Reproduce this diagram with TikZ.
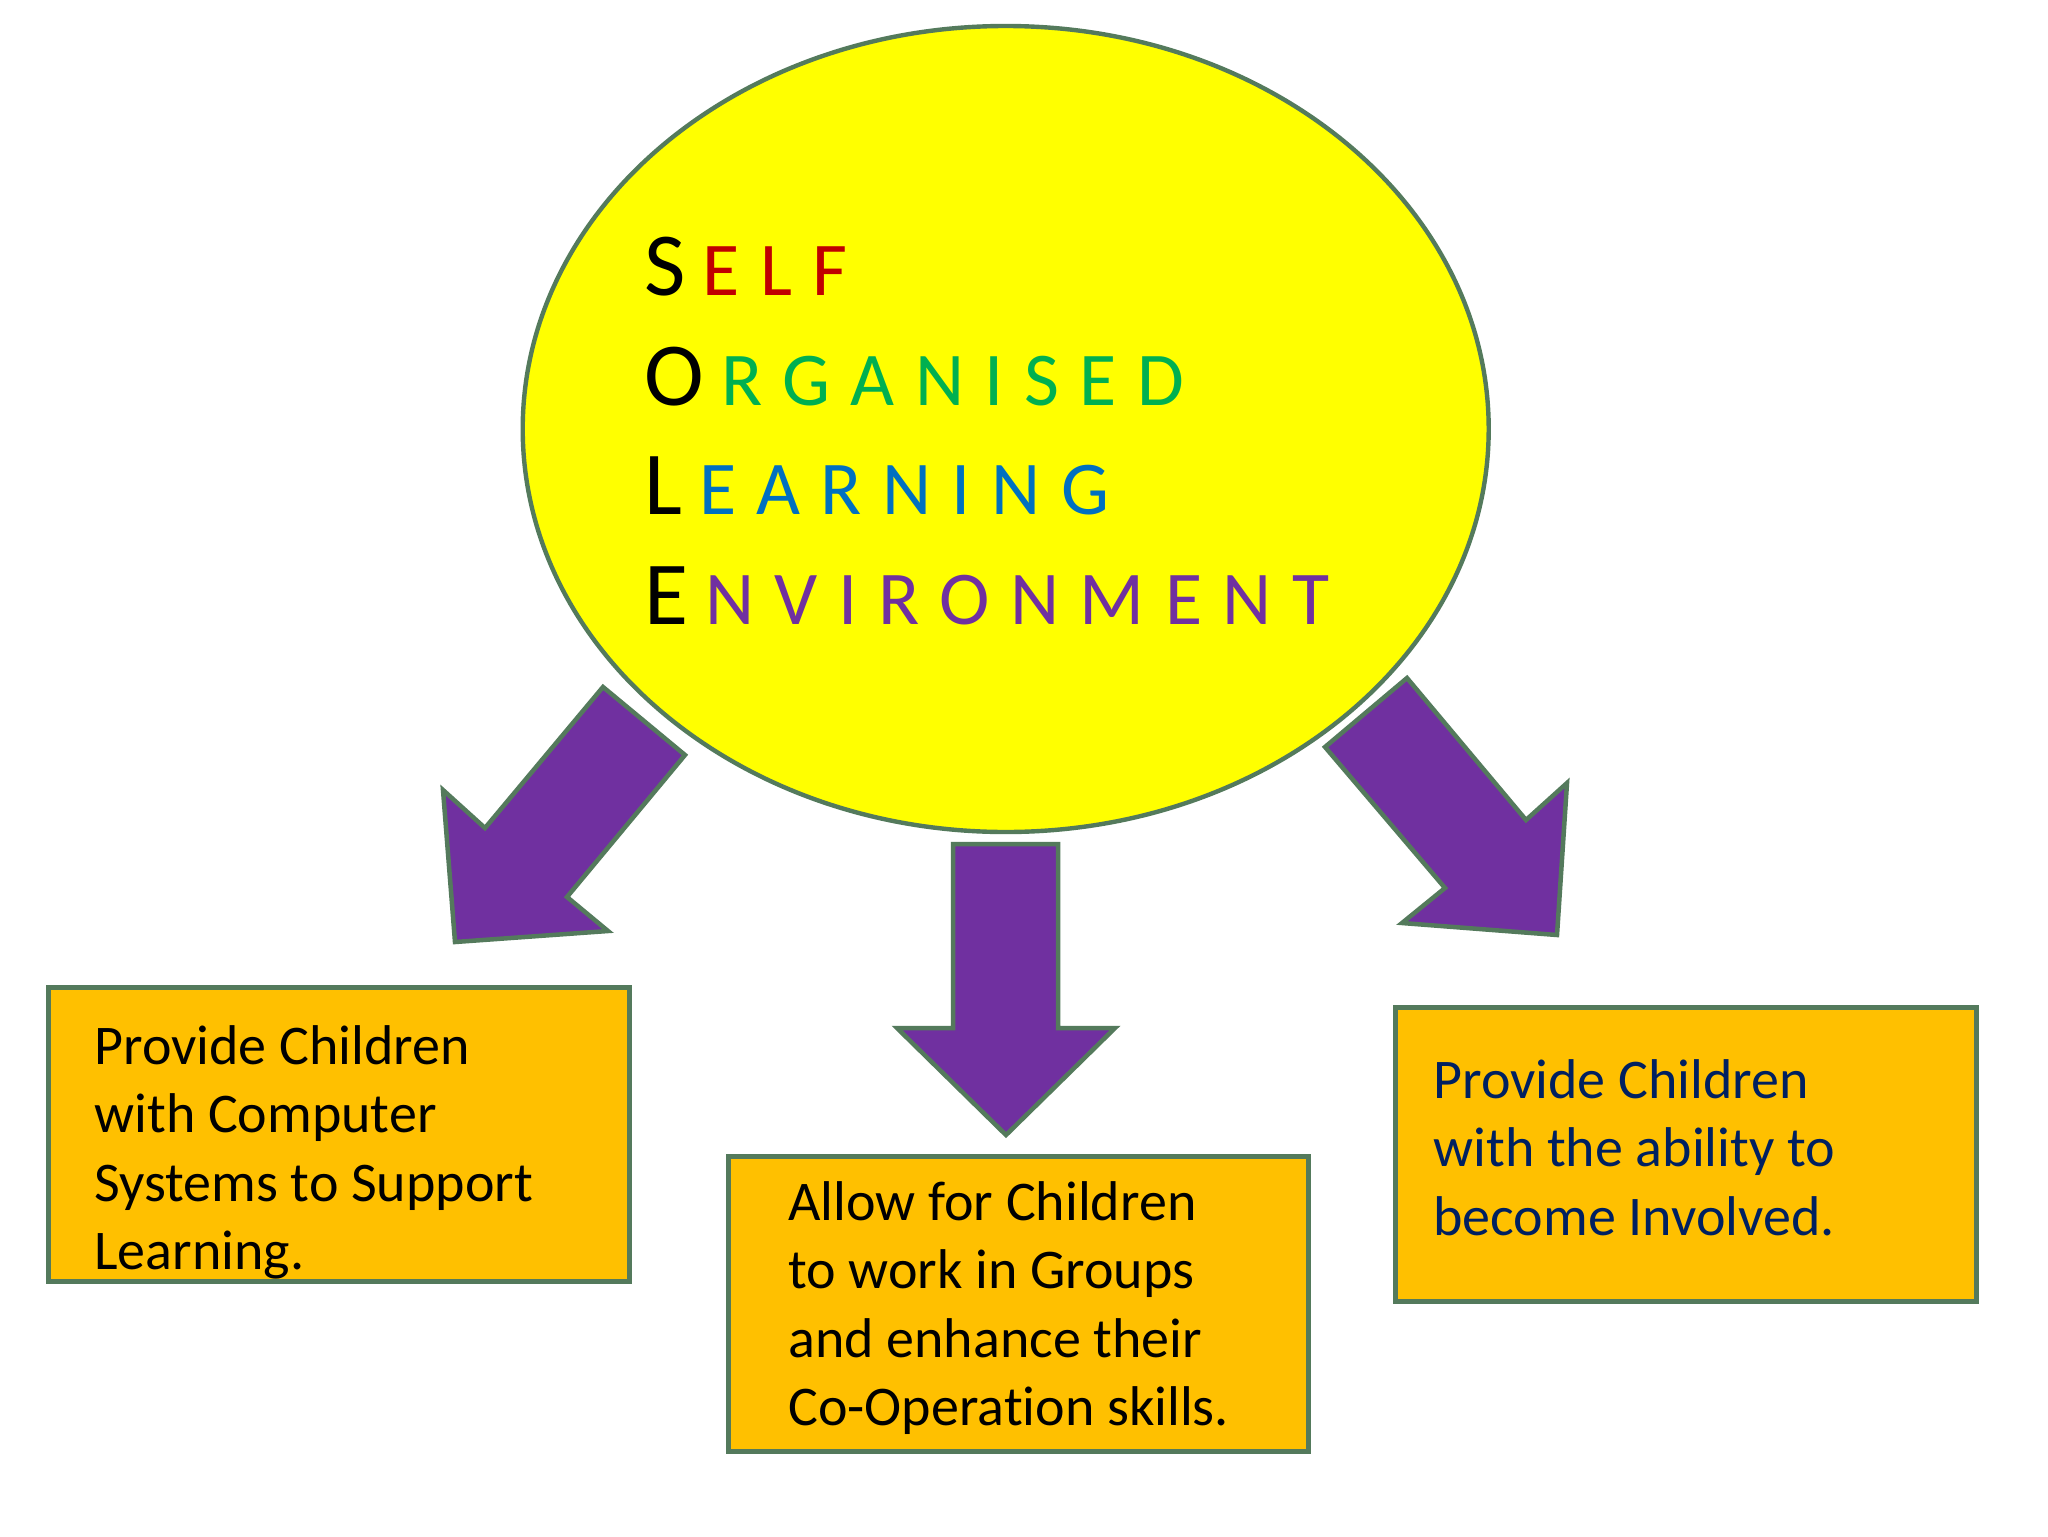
\documentclass[tikz,border=0pt]{standalone}
\usepackage{fontspec}
\setmainfont{Carlito}[Ligatures=NoCommon]
\newfontfamily\solefont[LetterSpace=27]{Carlito}
\usetikzlibrary{shapes.geometric}
\definecolor{edgegreen}{RGB}{84,122,92}
\definecolor{sunyellow}{RGB}{255,255,0}
\definecolor{boxorange}{RGB}{255,192,0}
\definecolor{arrowpurple}{RGB}{112,48,160}
\definecolor{solered}{RGB}{192,0,0}
\definecolor{solegreen}{RGB}{0,176,80}
\definecolor{soleblue}{RGB}{0,112,192}
\definecolor{navytext}{RGB}{0,32,96}
\newcommand\solebig{\solefont\fontsize{45}{54}\selectfont}
\newcommand\solesmall{\solefont\fontsize{38}{54}\selectfont}
\newcommand\solegap{\kern 8.5pt}
\tikzset{
  soleline/.style={anchor=base west, inner sep=0pt},
  infobox/.style={draw=edgegreen, line width=2.5pt, fill=boxorange, rectangle, inner sep=0pt},
  boxtext/.style={anchor=north west, inner sep=0pt, align=left, font=\fontsize{28}{34.2}\selectfont},
  blockarrow/.style={draw=edgegreen, line width=2.25pt, fill=arrowpurple, line join=miter}
}
\begin{document}
\begin{tikzpicture}[x=0.5pt,y=-0.5pt]
\useasboundingbox (0,0) rectangle (2048,1536);
\fill[white] (0,0) rectangle (2048,1536);

% central ellipse
\node[ellipse, draw=edgegreen, line width=2.2pt, fill=sunyellow,
      minimum width=483pt, minimum height=403pt, inner sep=0pt] (sole) at (1005.7,429) {};

\node[soleline] (lineS) at (644,295) {\solebig S\solegap\solesmall\color{solered}ELF};
\node[soleline] (lineO) at (644,405) {\solebig O\solegap\solesmall\color{solegreen}RGANISED};
\node[soleline] (lineL) at (644,514) {\solebig L\solegap\solesmall\color{soleblue}EARNING};
\node[soleline] (lineE) at (644,624) {\solebig E\solegap\solesmall\color{arrowpurple}NVIRONMENT};

% block arrows
\draw[blockarrow] (603,687) -- (685,755) -- (567,897) -- (608,931) -- (455,942) -- (443,790) -- (485,828) -- cycle;
\draw[blockarrow] (953,844) -- (1058,844) -- (1058,1028) -- (1115,1028) -- (1006,1135) -- (897,1028) -- (953,1028) -- cycle;
\draw[blockarrow] (1407,678) -- (1526,820) -- (1567,783) -- (1557,935) -- (1402,923) -- (1445,888) -- (1325,747) -- cycle;

% boxes
\node[infobox, minimum width=290.6pt, minimum height=147pt] (leftbox) at (338.9,1134.4) {};
\node[infobox, minimum width=290pt, minimum height=147.5pt] (midbox) at (1018.8,1303.5) {};
\node[infobox, minimum width=290.5pt, minimum height=147pt] (rightbox) at (1685.5,1154) {};

\node[boxtext] (lefttext) at (94,1016) {\strut Provide Children\\with Computer\\Systems to Support\\Learning.};
\node[boxtext] (midtext) at (788,1172) {\strut Allow for Children\\to work in Groups\\and enhance their\\Co-Operation skills.};
\node[boxtext, text=navytext] (righttext) at (1433,1050) {\strut Provide Children\\with the ability to\\become Involved.};
\end{tikzpicture}
\end{document}
